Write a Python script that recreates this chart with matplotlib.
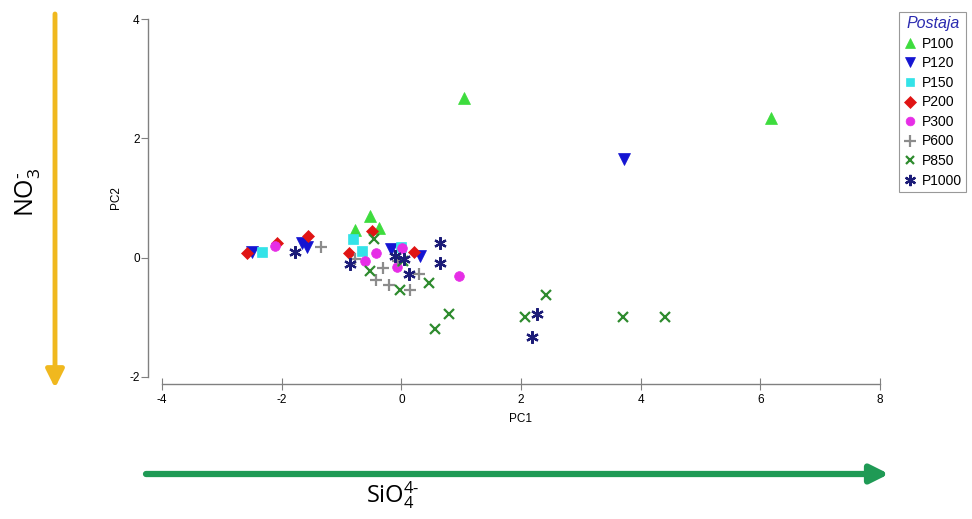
import matplotlib
matplotlib.use("Agg")
from matplotlib import pyplot as plt

plt.rcParams['font.family'] = ['Liberation Sans', 'DejaVu Sans']
plt.rcParams['axes.unicode_minus'] = False
plt.rcParams['mathtext.fontset'] = 'custom'
plt.rcParams['mathtext.rm'] = 'Open Sans'
plt.rcParams['mathtext.it'] = 'Open Sans'

# station groups and their PCA scores
stations = ['P100', 'P120', 'P150', 'P200', 'P300', 'P600', 'P850', 'P1000']

p100_x = [1.05, 6.17, -0.53, -0.77, -0.38]
p100_y = [2.68, 2.34, 0.69, 0.47, 0.50]

p120_x = [-2.50, -1.66, -1.58, -0.18, 0.31, 3.72]
p120_y = [0.09, 0.24, 0.18, 0.15, 0.02, 1.66]

p150_x = [-2.33, -0.81, -0.65, 0.00]
p150_y = [0.09, 0.31, 0.12, 0.18]

p200_x = [-2.58, -2.08, -1.56, -0.49, -0.88, 0.21]
p200_y = [0.08, 0.25, 0.36, 0.44, 0.08, 0.09]

p300_x = [-2.11, -0.60, -0.43, 0.01, -0.07, 0.96]
p300_y = [0.19, -0.06, 0.08, 0.16, -0.15, -0.30]

p600_x = [-1.35, -0.77, -0.30, -0.43, -0.21, 0.15, 0.29, -0.05]
p600_y = [0.18, -0.03, -0.17, -0.37, -0.45, -0.54, -0.28, -0.05]

p850_x = [-0.46, -0.53, -0.02, 0.46, 0.79, 0.57, 2.41, 2.07, 3.70, 4.40, 0.02]
p850_y = [0.31, -0.23, -0.55, -0.42, -0.94, -1.19, -0.63, -0.99, -0.99, -1.00, -0.05]

p1000_x = [-1.77, -0.85, -0.10, 0.04, 0.12, 0.65, 0.64, 2.27, 2.19]
p1000_y = [0.10, -0.10, 0.02, -0.03, -0.28, 0.25, -0.09, -0.94, -1.33]

xs = [p100_x, p120_x, p150_x, p200_x, p300_x, p600_x, p850_x, p1000_x]
ys = [p100_y, p120_y, p150_y, p200_y, p300_y, p600_y, p850_y, p1000_y]

# style for each station
colors = ['#3ddc3d', '#1414d2', '#33e3e8', '#e01414', '#e62ee6', '#8c8c8c', '#2e8b2e', '#1c1c78']
markers = ['^', 'v', 's', 'D', 'o', '+', 'x', (6, 2, 0)]
sizes = [8, 8, 7, 6.5, 7, 9, 7, 9]

W, H = 972, 519
fig = plt.figure(figsize=(W / 100, H / 100), dpi=100)
ax = fig.add_axes([162 / W, 1 - 377 / H, (880 - 162) / W, (377 - 19) / H])

for i, name in enumerate(stations):
    ax.plot(xs[i], ys[i], linestyle='none', marker=markers[i], color=colors[i],
            markersize=sizes[i], markeredgewidth=1.6 if markers[i] in ['+', 'x'] or i == 7 else 0.5,
            label=name, zorder=3)

ax.set_xlim(-4, 8)
ax.set_ylim(-2, 4)
ax.set_xticks([-4, -2, 0, 2, 4, 6, 8])
ax.set_yticks([-2, 0, 2, 4])

for s in ['top', 'right']:
    ax.spines[s].set_visible(False)
ax.spines['left'].set_position(('outward', 10))
ax.spines['bottom'].set_position(('outward', 5))
for s in ['left', 'bottom']:
    ax.spines[s].set_color('#808080')
    ax.spines[s].set_linewidth(1.0)

ax.tick_params(axis='y', direction='out', length=5, color='#808080', labelsize=8.5, pad=1)
ax.tick_params(axis='x', direction='inout', length=8, color='#808080', labelsize=8.5, pad=3)
ax.set_xlabel('PC1', fontsize=8.5, labelpad=5)
ax.set_ylabel('PC2', fontsize=8.5, labelpad=5)

leg = ax.legend(loc='upper right', bbox_to_anchor=(966 / W, 1 - 12 / H),
                bbox_transform=fig.transFigure, title='Postaja', fontsize=10,
                frameon=True, fancybox=False, edgecolor='#808080', borderpad=0.3,
                labelspacing=0.4, handlelength=0.9, handletextpad=0.4,
                borderaxespad=0, markerscale=0.9)
leg.get_frame().set_linewidth(0.8)
leg.get_title().set_fontstyle('italic')
leg.get_title().set_color('#2b2bb0')
leg.get_title().set_fontsize(11.5)

# direction arrows around the plot
def fpos(px, py):
    return (px / W, 1 - py / H)

ax.annotate('', xy=fpos(55, 388), xytext=fpos(55, 14), xycoords='figure fraction',
            textcoords='figure fraction',
            arrowprops=dict(arrowstyle='-|>,head_length=0.9,head_width=0.45', lw=3.5,
                            color='#f0b81e', shrinkA=0, shrinkB=0, mutation_scale=12))
ax.annotate('', xy=fpos(889, 474), xytext=fpos(146, 474), xycoords='figure fraction',
            textcoords='figure fraction',
            arrowprops=dict(arrowstyle='-|>,head_length=0.9,head_width=0.45', lw=4.5,
                            color='#1f9a55', shrinkA=0, shrinkB=0, mutation_scale=12))

fig.text(28 / W, 1 - 192 / H, r'NO$_3^{\text{-}}$', rotation=90, ha='center', va='center',
         fontsize=18, family='Open Sans')
fig.text(393 / W, 1 - 495 / H, r'SiO$_4^{4\text{-}}$', ha='center', va='center',
         fontsize=17, family='Open Sans')

fig.savefig('out.png', dpi=100)
